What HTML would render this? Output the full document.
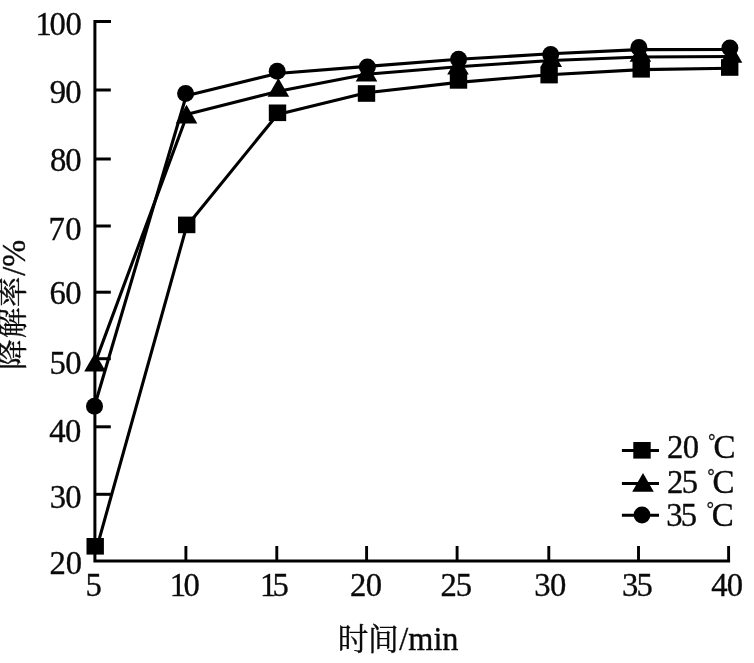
<!DOCTYPE html>
<html lang="zh-CN"><head><meta charset="utf-8"><title>降解率-时间</title>
<style>html,body{margin:0;padding:0;background:#fff;}body{width:754px;height:663px;overflow:hidden;}svg{display:block;will-change:transform;}text{font-family:"Liberation Serif", "Noto Serif CJK SC", serif;fill:#0a0a0a;stroke:#0a0a0a;stroke-width:0.35px;}</style></head><body>
<svg width="754" height="663" viewBox="0 0 754 663">
<rect width="754" height="663" fill="#fff"/>
<g stroke="#000" stroke-width="3" fill="none">
<path d="M111,21.6 H94.9 V560.9 H730.1"/>
<path d="M94.9,90.0 H110.8"/>
<path d="M94.9,159.0 H110.8"/>
<path d="M94.9,226.0 H110.8"/>
<path d="M94.9,292.2 H110.8"/>
<path d="M94.9,358.7 H110.8"/>
<path d="M94.9,426.8 H110.8"/>
<path d="M94.9,494.3 H110.8"/>
</g>
<g stroke="#000" stroke-width="2.9" fill="none">
<path d="M185.90,546 V560.9"/>
<path d="M276.80,546 V560.9"/>
<path d="M366.60,546 V560.9"/>
<path d="M457.10,546 V560.9"/>
<path d="M548.80,546 V560.9"/>
<path d="M638.50,546 V560.9"/>
<path d="M728.60,546 V560.9"/>
</g>
<text transform="translate(0,35.2) scale(0.99,1)" x="35.99 49.88 66.09" y="0" font-size="33.0">100</text>
<text transform="translate(0,102.8) scale(0.99,1)" x="50.28 65.99" y="0" font-size="33.0">90</text>
<text transform="translate(0,171.0) scale(0.99,1)" x="50.59 65.94" y="0" font-size="33.0">80</text>
<text transform="translate(0,239.8) scale(0.99,1)" x="49.02 65.94" y="0" font-size="33.0">70</text>
<text transform="translate(0,304.3) scale(0.99,1)" x="50.12 65.94" y="0" font-size="33.0">60</text>
<text transform="translate(0,373.9) scale(0.99,1)" x="50.07 65.94" y="0" font-size="33.0">50</text>
<text transform="translate(0,441.9) scale(0.99,1)" x="49.67 65.74" y="0" font-size="33.0">40</text>
<text transform="translate(0,508.3) scale(0.99,1)" x="50.24 65.94" y="0" font-size="33.0">30</text>
<text transform="translate(0,573.6) scale(0.99,1)" x="50.12 66.30" y="0" font-size="33.0">20</text>
<text transform="translate(0,596.1) scale(0.99,1)" x="86.39" y="0" font-size="33.0">5</text>
<text transform="translate(0,596.1) scale(0.99,1)" x="171.44 185.44" y="0" font-size="33.0">10</text>
<text transform="translate(0,596.1) scale(0.99,1)" x="262.55 275.17" y="0" font-size="33.0">15</text>
<text transform="translate(0,596.1) scale(0.99,1)" x="353.60 369.38" y="0" font-size="33.0">20</text>
<text transform="translate(0,596.1) scale(0.99,1)" x="445.07 460.38" y="0" font-size="33.0">25</text>
<text transform="translate(0,596.1) scale(0.99,1)" x="539.69 555.59" y="0" font-size="33.0">30</text>
<text transform="translate(0,596.1) scale(0.99,1)" x="628.37 643.05" y="0" font-size="33.0">35</text>
<text transform="translate(0,596.1) scale(0.99,1)" x="718.45 734.02" y="0" font-size="33.0">40</text>
<text font-size="30.7"><tspan x="337.7" y="649.5">时</tspan><tspan x="368.1" y="649.5">间</tspan><tspan x="399.3" y="649.7" font-size="34" textLength="59.22" lengthAdjust="spacingAndGlyphs">/min</tspan></text>
<text transform="translate(23.3,0) rotate(-90)" font-size="30.7"><tspan x="-370.0" y="0">降</tspan><tspan x="-338.3" y="0">解</tspan><tspan x="-307.15" y="0">率</tspan><tspan x="-275.7" y="1.3" font-size="34" textLength="35.88" lengthAdjust="spacingAndGlyphs">/%</tspan></text>
<g fill="#000">
<polyline fill="none" stroke="#000" stroke-width="3.1" stroke-linejoin="round" points="97.20,546.30 186.60,226.30 277.50,114.40 366.50,92.80 458.50,82.40 549.10,74.70 641.20,69.60 729.70,68.30"/>
<polyline fill="none" stroke="#000" stroke-width="3.1" stroke-linejoin="round" points="95.00,363.10 187.30,114.30 278.40,91.20 366.50,74.20 458.00,66.70 551.00,60.50 640.40,57.00 731.00,56.50"/>
<polyline fill="none" stroke="#000" stroke-width="3.1" stroke-linejoin="round" points="94.50,406.20 186.20,95.70 277.20,73.50 367.40,66.40 458.60,59.30 550.70,53.80 638.90,49.60 729.90,49.50"/>
<rect x="86.50" y="538.00" width="17.4" height="16.6"/>
<rect x="178.00" y="216.60" width="17.4" height="16.6"/>
<rect x="268.80" y="104.50" width="17.4" height="16.6"/>
<rect x="357.80" y="85.20" width="17.4" height="16.6"/>
<rect x="449.80" y="72.10" width="17.4" height="16.6"/>
<rect x="540.40" y="66.80" width="17.4" height="16.6"/>
<rect x="632.50" y="61.00" width="17.4" height="16.6"/>
<rect x="721.00" y="59.20" width="17.4" height="16.6"/>
<polygon points="95.00,352.80 105.80,371.50 84.20,371.50"/>
<polygon points="186.50,104.80 197.30,123.50 175.70,123.50"/>
<polygon points="278.40,78.00 289.20,96.70 267.60,96.70"/>
<polygon points="366.50,62.70 377.30,81.40 355.70,81.40"/>
<polygon points="458.00,55.90 468.80,74.60 447.20,74.60"/>
<polygon points="551.20,48.30 562.00,67.00 540.40,67.00"/>
<polygon points="640.40,43.10 651.20,61.80 629.60,61.80"/>
<polygon points="731.50,44.00 742.30,62.70 720.70,62.70"/>
<circle cx="94.50" cy="406.20" r="8.5"/>
<circle cx="185.60" cy="93.60" r="8.5"/>
<circle cx="277.20" cy="71.20" r="8.5"/>
<circle cx="367.40" cy="66.90" r="8.5"/>
<circle cx="458.60" cy="59.30" r="8.5"/>
<circle cx="550.70" cy="54.50" r="8.5"/>
<circle cx="638.90" cy="47.50" r="8.5"/>
<circle cx="729.90" cy="47.90" r="8.5"/>
<path d="M621.9,450.4 H659" stroke="#000" stroke-width="3" fill="none"/>
<path d="M621.9,483.5 H659" stroke="#000" stroke-width="3" fill="none"/>
<path d="M621.9,515.3 H659" stroke="#000" stroke-width="3" fill="none"/>
<rect x="633.30" y="442.00" width="17.4" height="16.6"/>
<polygon points="643.00,473.00 653.80,491.70 632.20,491.70"/>
<circle cx="642.00" cy="515.00" r="8.4"/>
</g>
<text transform="translate(0,457.8) scale(0.99,1)" x="673.75 689.58" y="0" font-size="33.0">20</text>
<text><tspan x="708.35" y="447.20" font-size="17.8">°</tspan><tspan x="713.43" y="457.8" font-size="33.0">C</tspan></text>
<text transform="translate(0,492.6) scale(0.99,1)" x="673.65 688.66" y="0" font-size="33.0">25</text>
<text><tspan x="707.45" y="482.00" font-size="17.8">°</tspan><tspan x="712.53" y="492.6" font-size="33.0">C</tspan></text>
<text transform="translate(0,525.8) scale(0.99,1)" x="672.92 687.75" y="0" font-size="33.0">35</text>
<text><tspan x="706.65" y="515.20" font-size="17.8">°</tspan><tspan x="711.73" y="525.8" font-size="33.0">C</tspan></text>
</svg></body></html>
